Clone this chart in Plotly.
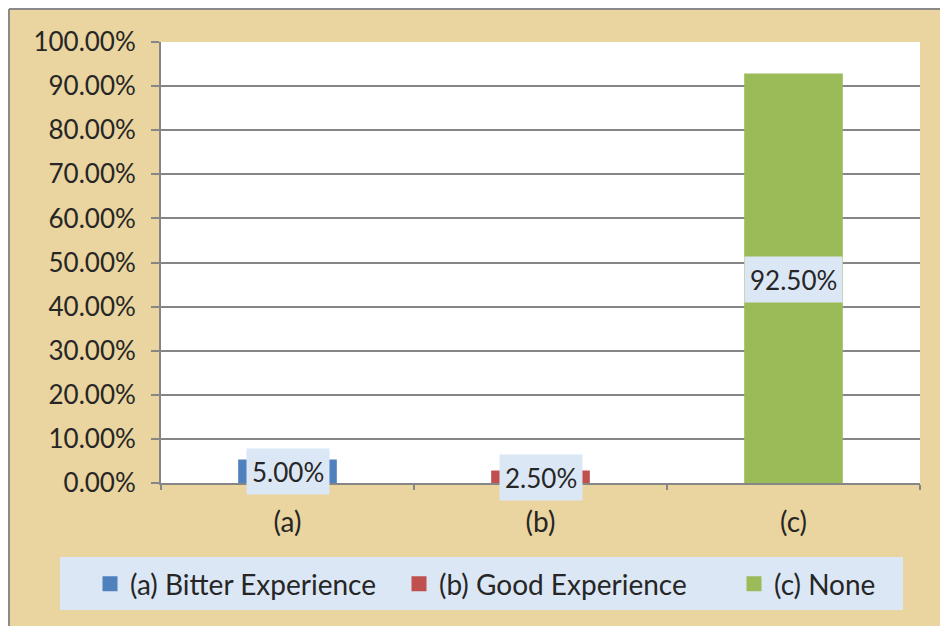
import plotly.graph_objects as go

categories = ["(a)", "(b)", "(c)"]
series_names = ["(a) Bitter Experience", "(b) Good Experience", "(c) None"]
values = [0.05, 0.025, 0.925]
colors = ["#4F81BD", "#C0504D", "#9BBB59"]
y_ticks = [i / 10 for i in range(11)]

W, H = 940, 626
L, R, T, B = 161, 920, 42, 483  # plot area in page pixels


def px(x):  # page pixel -> paper
    return (x - L) / (R - L)


def py(y):
    return (B - y) / (B - T)


FONT = "Lato, Calibri, sans-serif"
TXT = "#262626"
GRID = "#868686"
legend_ids = ["legend", "legend2", "legend3"]
legend_left_px = [90, 399, 734]

fig = go.Figure()
for cat, name, v, c, lid in zip(categories, series_names, values, colors, legend_ids):
    fig.add_trace(go.Bar(
        x=[cat], y=[v], name=name, width=0.378, legend=lid,
        marker=dict(color=c, line=dict(width=3, color=c)),
    ))
    fig.add_annotation(
        x=cat, y=v / 2, xref="x", yref="y", text=f"{v * 100:.2f}%",
        showarrow=False, bgcolor="#DCE7F5", borderpad=5, height=35,
        font=dict(family=FONT, size=26, color=TXT),
    )

shapes = [
    # parchment card
    dict(type="rect", xref="paper", yref="paper", x0=px(9), x1=px(945),
         y0=py(630), y1=py(9), fillcolor="#EAD49F", line=dict(width=0), layer="below"),
    # plot area
    dict(type="rect", xref="paper", yref="paper", x0=0, x1=1, y0=0, y1=1,
         fillcolor="white", line=dict(width=0), layer="below"),
    # legend box
    dict(type="rect", xref="paper", yref="paper", x0=px(60), x1=px(903),
         y0=py(610), y1=py(557), fillcolor="#DCE7F5", line=dict(width=0), layer="below"),
    # card border (top and left)
    dict(type="line", xref="paper", yref="paper", x0=px(9), x1=px(945),
         y0=py(9), y1=py(9), line=dict(color="#8A8A8A", width=2)),
    dict(type="line", xref="paper", yref="paper", x0=px(9), x1=px(9),
         y0=py(630), y1=py(9), line=dict(color="#8A8A8A", width=2)),
]

legend_style = dict(
    orientation="h", y=py(584), xanchor="left", yanchor="middle",
    xref="paper", yref="paper", bgcolor="rgba(0,0,0,0)",
    font=dict(family=FONT, size=28, color=TXT), itemwidth=30,
)
legends = {lid: dict(legend_style, x=px(lx)) for lid, lx in zip(legend_ids, legend_left_px)}

fig.update_layout(
    width=W, height=H,
    margin=dict(l=L, r=W - R, t=T, b=H - B, pad=0),
    paper_bgcolor="white", plot_bgcolor="white",
    barmode="overlay",
    shapes=shapes,
    font=dict(family=FONT, size=26, color=TXT),
    showlegend=True,
    **legends,
    xaxis=dict(
        categoryorder="array", categoryarray=categories,
        showline=True, linecolor=GRID, linewidth=2,
        ticks="outside", tickson="boundaries", ticklen=5, tickcolor=GRID, tickwidth=2,
        showgrid=False, ticklabelstandoff=13,
        tickfont=dict(family=FONT, size=28, color=TXT),
    ),
    yaxis=dict(
        range=[0, 1], tickvals=y_ticks, tickformat=".2%",
        showline=True, linecolor=GRID, linewidth=2,
        ticks="outside", ticklen=8, tickcolor=GRID, tickwidth=2,
        showgrid=True, gridcolor=GRID, gridwidth=2, zeroline=False,
        ticklabelstandoff=10,
        tickfont=dict(family=FONT, size=26, color=TXT),
    ),
)

fig.write_html(
    "out.html",
    config={"displayModeBar": False},
    post_script="document.body.style.margin='0';document.body.style.overflow='hidden';",
)
